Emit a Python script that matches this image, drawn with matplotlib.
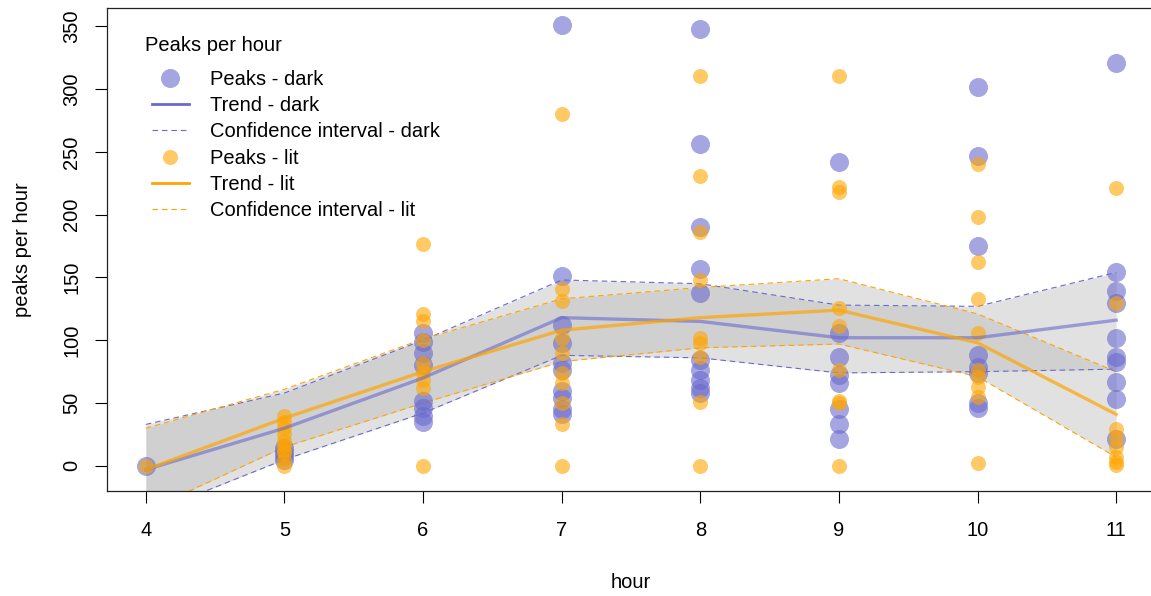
import numpy as np
import matplotlib
matplotlib.use("Agg")
import matplotlib.pyplot as plt
from matplotlib.lines import Line2D

plt.rcParams['font.family'] = ['Liberation Sans', 'DejaVu Sans']

# hours on the x axis
hours = [4, 5, 6, 7, 8, 9, 10, 11]

# peaks per hour, one list per hour
dark_peaks = [
    [0],
    [5, 8, 11, 14],
    [106, 99, 90, 80, 52, 46, 40, 35],
    [351, 151, 112, 98, 82, 76, 60, 54, 45, 41],
    [348, 256, 190, 157, 138, 84, 76, 68, 62, 58],
    [242, 106, 87, 72, 66, 45, 33, 21],
    [302, 247, 175, 88, 79, 74, 50, 46],
    [321, 154, 139, 130, 102, 87, 83, 67, 53, 21],
]
lit_peaks = [
    [0],
    [0, 5, 10, 13, 17, 20, 25, 30, 35, 40],
    [177, 121, 115, 100, 82, 75, 68, 62, 0],
    [280, 141, 131, 102, 90, 74, 66, 50, 33, 0],
    [310, 231, 186, 148, 102, 98, 87, 51, 0],
    [310, 222, 218, 126, 111, 76, 52, 50, 0],
    [240, 198, 162, 133, 106, 76, 71, 63, 55, 2],
    [221, 130, 29, 22, 15, 7, 3, 1],
]

# trends and confidence intervals
dark_trend = [-3, 30, 70, 118, 115, 102, 102, 116]
dark_upper = [33, 58, 100, 148, 145, 128, 127, 154]
dark_lower = [-39, 5, 42, 88, 86, 74, 75, 77]
lit_trend = [-3, 38, 75, 108, 118, 124, 98, 41]
lit_upper = [30, 61, 101, 133, 142, 149, 121, 75]
lit_lower = [-36, 15, 50, 83, 94, 97, 71, 7]

dark_col = '#6a6acd'
lit_col = '#ffa500'
fs = 14.5

fig = plt.figure(figsize=(11.51, 5.96), dpi=100)
ax = fig.add_axes([107/1151, 105/596, 1048/1151, 483/596])

# confidence bands
ax.fill_between(hours, dark_lower, dark_upper, color='#bdbdbd', alpha=0.45, lw=0, zorder=1)
ax.fill_between(hours, lit_lower, lit_upper, color='#bdbdbd', alpha=0.45, lw=0, zorder=1)
for arr in (dark_upper, dark_lower):
    ax.plot(hours, arr, color=dark_col, lw=0.8, dashes=(5, 3.5), zorder=2)
for arr in (lit_upper, lit_lower):
    ax.plot(hours, arr, color=lit_col, lw=0.8, dashes=(5, 3.5), zorder=2)

# points
for h, vals in zip(hours, dark_peaks):
    ax.plot([h]*len(vals), vals, 'o', ms=13.7, mew=0, color=dark_col, alpha=0.6, zorder=3)
for h, vals in zip(hours, lit_peaks):
    ax.plot([h]*len(vals), vals, 'o', ms=10.8, mew=0, color=lit_col, alpha=0.6, zorder=3)

# trends
ax.plot(hours, dark_trend, color=dark_col, lw=2.4, alpha=0.6, zorder=4)
ax.plot(hours, lit_trend, color=lit_col, lw=2.4, alpha=0.7, zorder=4)

ax.set_xlim(3.72, 11.28)
ax.set_ylim(-20, 364.5)
ax.set_xticks(hours)
ax.set_yticks(np.arange(0, 351, 50))
ax.tick_params(axis='x', labelsize=fs, length=8.5, width=0.8, pad=13)
ax.tick_params(axis='y', labelsize=fs, length=8.5, width=0.8, pad=10)
plt.setp(ax.get_yticklabels(), rotation=90, va='center')
for s in ax.spines.values():
    s.set_linewidth(0.9)
    s.set_color('#222222')
ax.set_xlabel('hour', fontsize=fs, labelpad=24)
ax.set_ylabel('peaks per hour', fontsize=fs, labelpad=22)

# legend, title placed as in the original (extra gap under it)
ax.text(0.0363, 0.923, 'Peaks per hour', transform=ax.transAxes,
        fontsize=fs, ha='left', va='center')
handles = [
    Line2D([], [], ls='none', marker='o', ms=13.7, mew=0, color=dark_col, alpha=0.6),
    Line2D([], [], color=dark_col, lw=2),
    Line2D([], [], color=dark_col, lw=0.8, dashes=(5, 3.5)),
    Line2D([], [], ls='none', marker='o', ms=10.8, mew=0, color=lit_col, alpha=0.6),
    Line2D([], [], color=lit_col, lw=2),
    Line2D([], [], color=lit_col, lw=0.8, dashes=(5, 3.5)),
]
labels = ['Peaks - dark', 'Trend - dark', 'Confidence interval - dark',
          'Peaks - lit', 'Trend - lit', 'Confidence interval - lit']
leg = ax.legend(handles, labels, loc='upper left',
                bbox_to_anchor=(0.043, 0.872), frameon=False, fontsize=fs,
                borderpad=0, handlelength=1.83, handletextpad=1.05,
                labelspacing=0.36, borderaxespad=0)

fig.savefig('out.png', dpi=100)
